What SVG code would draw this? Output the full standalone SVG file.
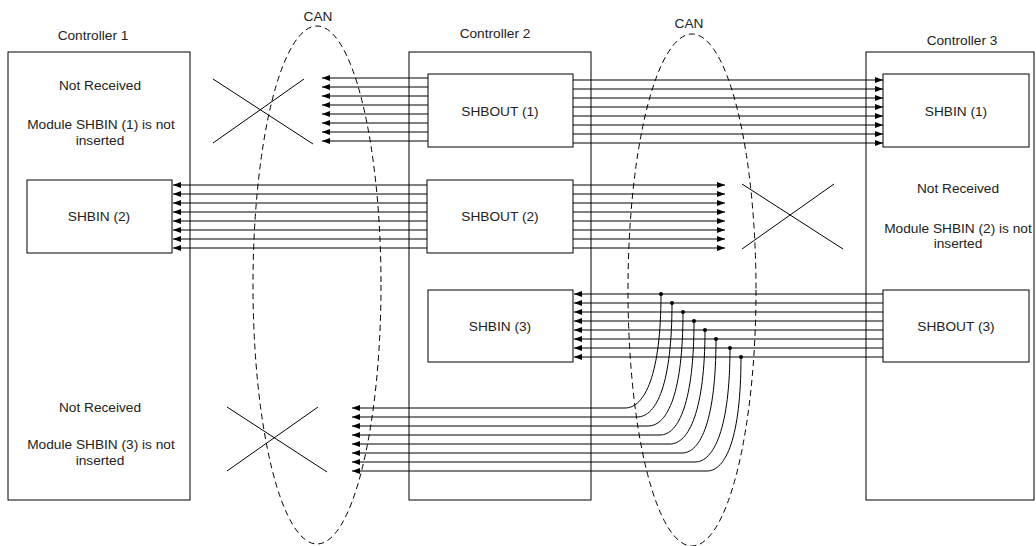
<svg xmlns="http://www.w3.org/2000/svg" width="1036" height="546" viewBox="0 0 1036 546">
<style>
text{font-family:"Liberation Sans",Arial,sans-serif;font-size:13.7px;fill:#222;text-anchor:middle}
.box{fill:#fff;stroke:#000;stroke-width:1}
.ctl{fill:none;stroke:#000;stroke-width:1}
.w{fill:none;stroke:#000;stroke-width:1;marker-end:url(#ah)}
.can{fill:none;stroke:#000;stroke-width:1;stroke-dasharray:6 4}
.x{stroke:#000;stroke-width:1}
</style>
<defs>
<marker id="ah" markerWidth="8" markerHeight="6" refX="8" refY="3" orient="auto" markerUnits="userSpaceOnUse"><path d="M0,0 L8,3 L0,6 z" fill="#000"/></marker>
</defs>
<rect width="1036" height="546" fill="#fff"/>

<g id="controller1">
<rect class="ctl" x="8" y="52" width="182" height="448"/>
<text x="93" y="40">Controller 1</text>
<text x="100" y="90">Not Received</text>
<text x="101" y="129">Module SHBIN (1) is not</text>
<text x="100" y="145">inserted</text>
<text x="100" y="412">Not Received</text>
<text x="101" y="449">Module SHBIN (3) is not</text>
<text x="100" y="465">inserted</text>
</g>
<g id="controller2">
<rect class="ctl" x="409" y="52" width="182" height="448"/>
<text x="495" y="38">Controller 2</text>
</g>
<g id="controller3">
<rect class="ctl" x="866" y="52" width="168" height="448"/>
<text x="962" y="45">Controller 3</text>
<text x="958" y="193">Not Received</text>
<text x="958" y="233">Module SHBIN (2) is not</text>
<text x="958" y="248">inserted</text>
</g>

<g id="can1">
<ellipse class="can" cx="317" cy="285" rx="64" ry="259"/>
<text x="318" y="21">CAN</text>
</g>
<g id="can2">
<ellipse class="can" cx="692" cy="290" rx="64" ry="256"/>
<text x="689" y="28">CAN</text>
</g>

<g id="connectors">
<path class="w" d="M428,78H322"/><path class="w" d="M428,87H322"/><path class="w" d="M428,96H322"/><path class="w" d="M428,105H322"/>
<path class="w" d="M428,114H322"/><path class="w" d="M428,123H322"/><path class="w" d="M428,132H322"/><path class="w" d="M428,141H322"/>

<path class="w" d="M573,80H883"/><path class="w" d="M573,89H883"/><path class="w" d="M573,98H883"/><path class="w" d="M573,107H883"/>
<path class="w" d="M573,116H883"/><path class="w" d="M573,125H883"/><path class="w" d="M573,134H883"/><path class="w" d="M573,143H883"/>

<path class="w" d="M427,185H173"/><path class="w" d="M427,194H173"/><path class="w" d="M427,203H173"/><path class="w" d="M427,212H173"/>
<path class="w" d="M427,221H173"/><path class="w" d="M427,230H173"/><path class="w" d="M427,239H173"/><path class="w" d="M427,248H173"/>

<path class="w" d="M573,185H725"/><path class="w" d="M573,194H725"/><path class="w" d="M573,203H725"/><path class="w" d="M573,212H725"/>
<path class="w" d="M573,221H725"/><path class="w" d="M573,230H725"/><path class="w" d="M573,239H725"/><path class="w" d="M573,248H725"/>

<path class="w" d="M883,294H574"/><path class="w" d="M883,303H574"/><path class="w" d="M883,312H574"/><path class="w" d="M883,321H574"/>
<path class="w" d="M883,330H574"/><path class="w" d="M883,339H574"/><path class="w" d="M883,348H574"/><path class="w" d="M883,357H574"/>

<path class="w" d="M661,294C661,374 645,408 625,408H352"/>
<path class="w" d="M672,303C672,383 657,417 637,417H352"/>
<path class="w" d="M683,312C683,392 668,426 648,426H352"/>
<path class="w" d="M694,321C694,401 679,435 660,435H352"/>
<path class="w" d="M705,330C705,410 689,444 670,444H352"/>
<path class="w" d="M716,339C716,419 701,453 682,453H352"/>
<path class="w" d="M730,348C730,428 714,462 695,462H352"/>
<path class="w" d="M741,357C741,437 726,471 707,471H352"/>
<g fill="#000">
<circle cx="661" cy="294" r="2"/><circle cx="672" cy="303" r="2"/><circle cx="683" cy="312" r="2"/><circle cx="694" cy="321" r="2"/>
<circle cx="705" cy="330" r="2"/><circle cx="716" cy="339" r="2"/><circle cx="730" cy="348" r="2"/><circle cx="741" cy="357" r="2"/>
</g>
<path class="x" d="M213,79L313,144M304,79L213,143"/>
<path class="x" d="M742,184L843,249M834,184L742,249"/>
<path class="x" d="M227,407L327,472M318,407L227,471"/>
</g>

<g id="shbout1"><rect class="box" x="428" y="74" width="145" height="73"/><text x="500" y="116">SHBOUT (1)</text></g>
<g id="shbin1"><rect class="box" x="883" y="74" width="146" height="73"/><text x="956" y="116">SHBIN (1)</text></g>
<g id="shbin2"><rect class="box" x="27" y="180" width="145" height="73"/><text x="99" y="221">SHBIN (2)</text></g>
<g id="shbout2"><rect class="box" x="427" y="180" width="146" height="73"/><text x="500" y="221">SHBOUT (2)</text></g>
<g id="shbin3"><rect class="box" x="428" y="290" width="145" height="72"/><text x="500" y="331">SHBIN (3)</text></g>
<g id="shbout3"><rect class="box" x="883" y="290" width="146" height="72"/><text x="956" y="331">SHBOUT (3)</text></g>
</svg>
